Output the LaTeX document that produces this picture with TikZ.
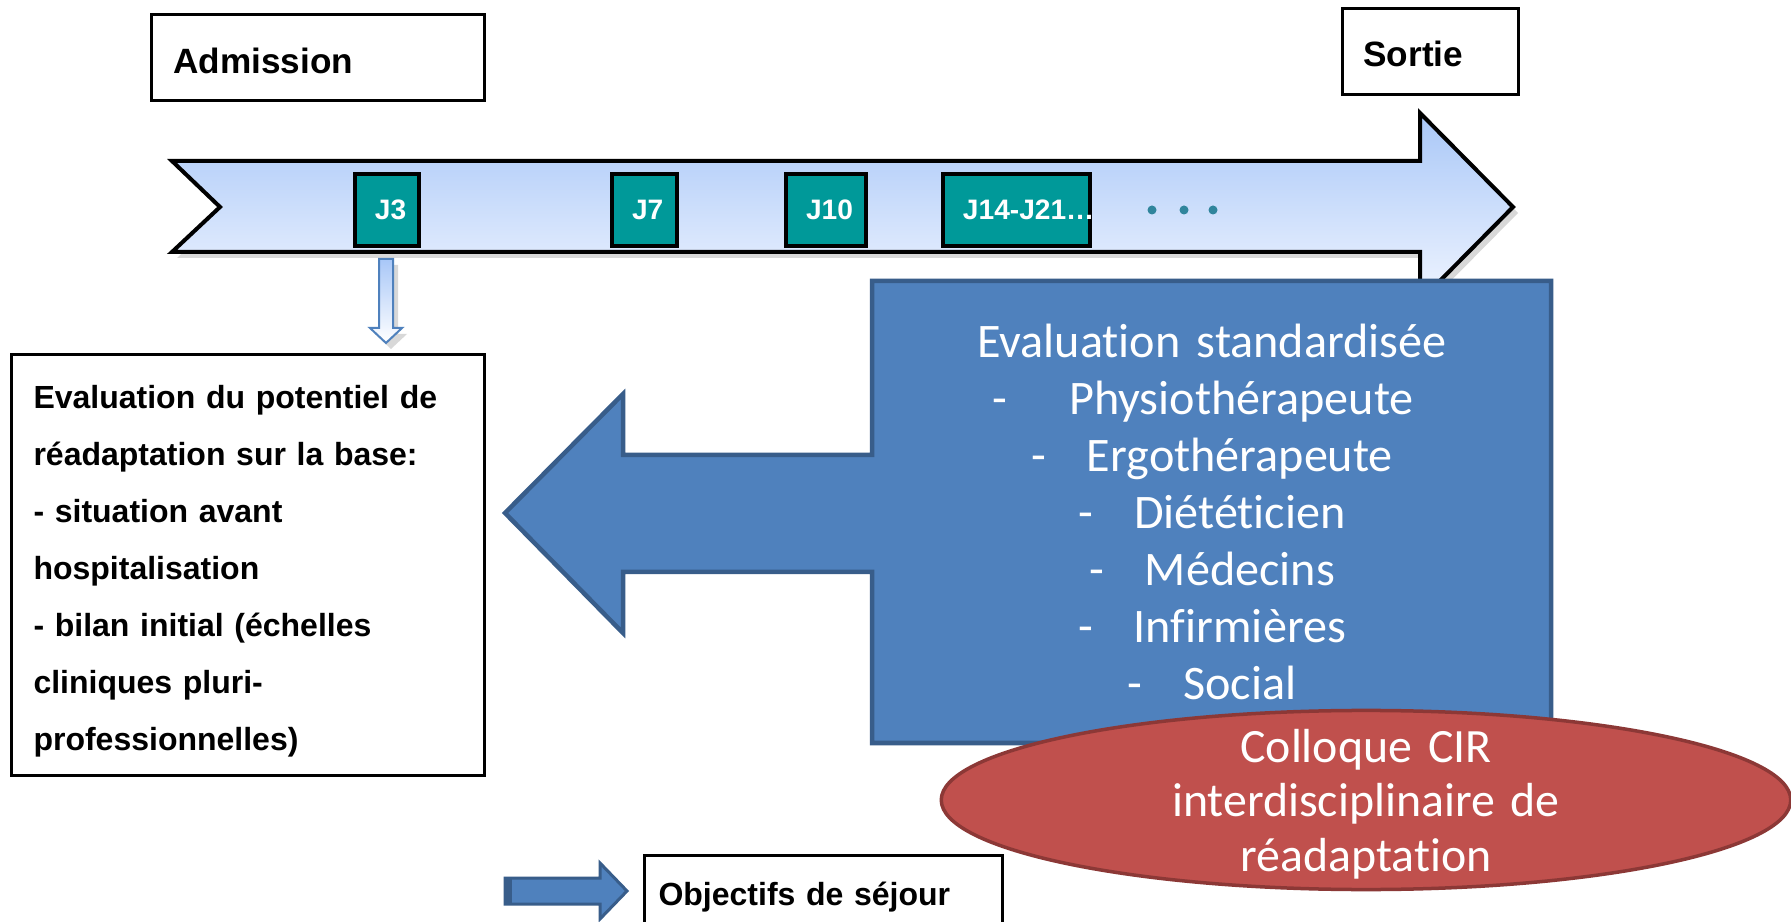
\documentclass[tikz,border=0pt]{standalone}
\usepackage{fontspec}
\setmainfont{Liberation Sans}
\newfontfamily\calibri[Ligatures=NoCommon]{Carlito}
\usepackage{tikz}
\usetikzlibrary{calc}
\usetikzlibrary{shapes,shadows}
\definecolor{jour}{rgb}{0.0,0.6,0.6}
\definecolor{flechehaut}{rgb}{0.66,0.78,0.97}
\definecolor{flechebas}{rgb}{0.94,0.96,1.0}
\definecolor{bleu}{rgb}{0.31,0.506,0.741}
\definecolor{bleubord}{rgb}{0.22,0.365,0.541}
\definecolor{rouge}{rgb}{0.753,0.314,0.302}
\definecolor{rougebord}{rgb}{0.549,0.22,0.212}
\definecolor{points}{rgb}{0.19,0.52,0.61}

\begin{document}
\begin{tikzpicture}[x=0.01cm,y=-0.01cm,
    boite/.style={draw, line width=0.03cm, inner ysep=0pt, align=left,
      font=\bfseries\fontsize{9.1}{16.2}\selectfont},
    jbox/.style={draw, line width=0.033cm, fill=jour, text=white,
      inner xsep=0.2cm, inner ysep=0pt, minimum height=0.72cm,
      align=left, text width=#1, font=\bfseries\fontsize{8}{9.6}\selectfont},
    blanc/.style={text=white, align=center, inner sep=0pt},
    ombre/.style={drop shadow={shadow xshift=0.05cm, shadow yshift=-0.06cm, opacity=0.3}}]
    %% \draw[help lines] (0,0) grid (1791,922);
    \useasboundingbox (0,0) rectangle (1791,922);
    \fill[white] (0,0) rectangle (1791,922);
    % time line
    \path[draw, line width=0.04cm, top color=flechehaut, bottom color=flechebas, ombre]
      (172,161) -- (1420,161) -- (1420,113) -- (1513,207) -- (1420,301)
      -- (1420,252) -- (172,252) -- (220,207) -- cycle;
    \node[jbox=0.24cm] (J3) at (387,210) {J3};
    \node[jbox=0.25cm] (J7) at (644.5,210) {J7};
    \node[jbox=0.40cm] (J10) at (826,210) {J10};
    \node[jbox=1.07cm] (J14) at (1016.5,210) {\mbox{J14-J21…}};
    \foreach \x in {1152,1184,1213}
      \fill[points] (\x,210) circle (0.045cm);
    \path[draw=bleu, line width=0.02cm, top color=flechehaut, bottom color=white, ombre]
      (379,259) -- (393,259) -- (393,328) -- (402,328) -- (386,343)
      -- (370,328) -- (379,328) -- cycle;
    \node[boite, anchor=north west, inner xsep=0.22cm, text width=2.89cm,
      text height=0.59cm, text depth=0.27cm, font=\bfseries\fontsize{10}{12}\selectfont]
      (admission) at (150,13) {Admission};
    \node[boite, anchor=north west, inner xsep=0.21cm, text width=1.34cm,
      text height=0.58cm, text depth=0.28cm, font=\bfseries\fontsize{10}{12}\selectfont]
      (sortie) at (1341,7) {Sortie};
    \node[boite, anchor=north west, inner xsep=0.22cm, text width=4.29cm,
      text height=0.54cm, text depth=3.67cm] (bilan) at (10,353)
      {Evaluation du potentiel de\\
       réadaptation sur la base:\\
       - situation avant\\
       hospitalisation\\
       - bilan initial (échelles\\
       cliniques pluri-\\
       professionnelles)};
    % evaluation
    \path[fill=bleu, draw=bleubord, line width=0.045cm]
      (872,281) -- (1551,281) -- (1551,743) -- (872,743) -- (872,572)
      -- (623,572) -- (623,633) -- (505,513) -- (623,394) -- (623,455)
      -- (872,455) -- cycle;
    \node[blanc, anchor=base, text width=6.5cm, font=\calibri\fontsize{13.7}{16.2}\selectfont]
      (standard) at (1212,358)
      {Evaluation standardisée\\
       \hspace*{-0.18cm}-\hspace{0.62cm}Physiothérapeute\\
       -\hspace{0.41cm}Ergothérapeute\\
       -\hspace{0.41cm}Diététicien\\
       -\hspace{0.41cm}Médecins\\
       -\hspace{0.41cm}Infirmières\\
       -\hspace{0.41cm}Social};
    \node[ellipse, fill=rouge, draw=rougebord, line width=0.035cm,
      minimum width=8.49cm, minimum height=1.79cm, inner sep=0pt] (colloque) at (1366,800) {};
    \node[blanc, anchor=base, text width=5cm, font=\calibri\fontsize{13.6}{15.6}\selectfont]
      (colloquetxt) at (1366,762)
      {Colloque CIR\\interdisciplinaire de\\réadaptation};
    % objectifs
    \path[fill=bleu, draw=bleubord, line width=0.03cm]
      (505,878) -- (600,878) -- (600,863) -- (627,891) -- (600,919)
      -- (600,904) -- (505,904) -- cycle;
    \fill[bleubord] (505,878) rectangle (512,904);
    \node[boite, anchor=north west, inner xsep=0.14cm, text width=3.30cm,
      text height=0.50cm, text depth=0.40cm] (objectifs) at (643,854) {Objectifs de séjour};
  \end{tikzpicture}
\end{document}
